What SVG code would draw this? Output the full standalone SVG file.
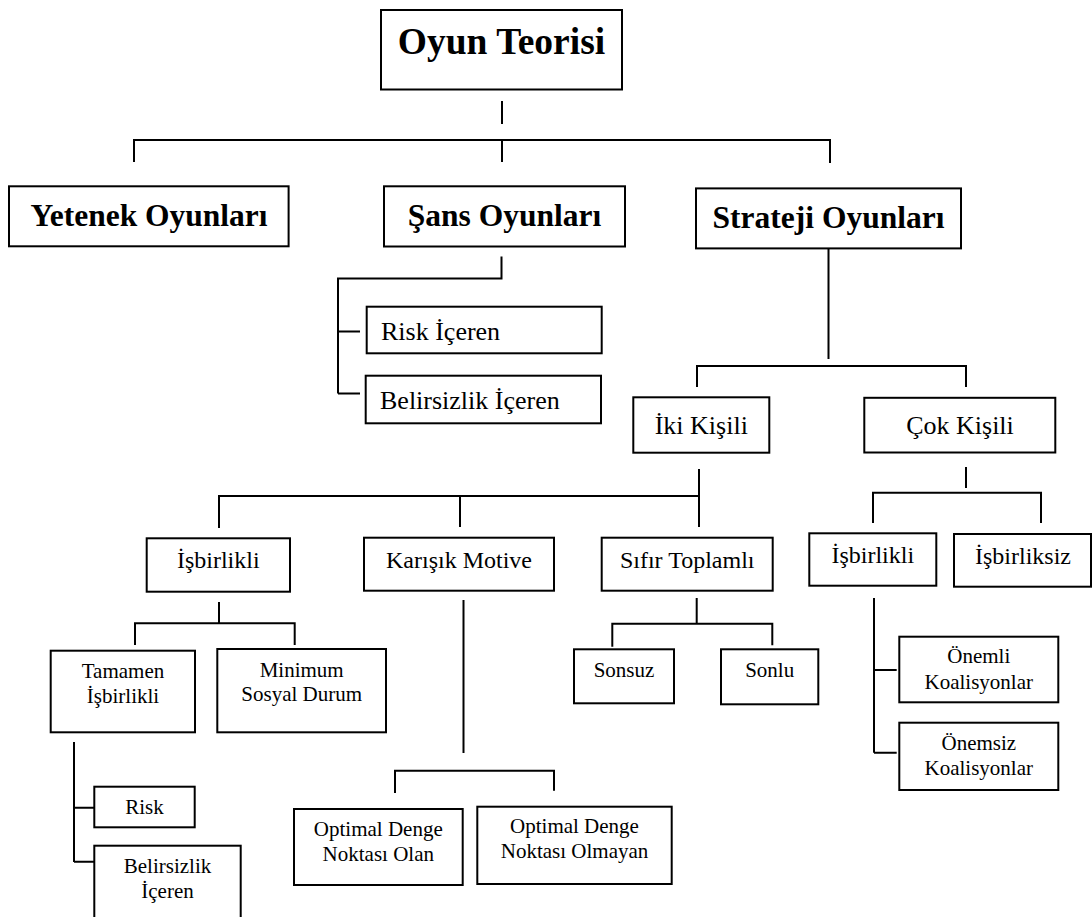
<svg xmlns="http://www.w3.org/2000/svg" width="1092" height="917" viewBox="0 0 1092 917">
<style>
.b{fill:#fff;stroke:#000;stroke-width:2}
.c{fill:none;stroke:#000;stroke-width:2}
text{font-family:"Liberation Serif","Times New Roman",serif;fill:#000}
.h1{font-size:37.5px;font-weight:bold;text-anchor:middle}
.h2{font-size:31.5px;font-weight:bold;text-anchor:middle}
.t26{font-size:26px}
.m26{font-size:26px;text-anchor:middle}
.m24{font-size:24px;text-anchor:middle}
.m21{font-size:21px;text-anchor:middle}
</style>
<rect width="1092" height="917" fill="#fff"/>
<g id="connectors">
<path class="c" d="M502,101V124M134,162V140H830V163M502,140V162"/>
<path class="c" d="M501.5,256.5V278.5H338V393.5M338,331.5H360M338,393.5H360"/>
<path class="c" d="M828.5,248V359M697,387V366H966V387"/>
<path class="c" d="M699,469V527M219,528V496H699M460,496V527"/>
<path class="c" d="M966,467V488M873,523V492.7H1041V523"/>
<path class="c" d="M219,602V623.3M135,645V623.3H294.7V645"/>
<path class="c" d="M463.5,600V753"/>
<path class="c" d="M395,793V770.7H554V790.7"/>
<path class="c" d="M696.7,598V623.7M612.3,646.7V623.7H772.3V645.3"/>
<path class="c" d="M874,598V752.7M874,670H896.7M874,752.7H896.7"/>
<path class="c" d="M74,742V862M74,807.7H94.3M74,861.7H94.3"/>
</g>
<g id="oyun-teorisi"><rect class="b" x="381" y="10" width="241" height="79.5"/><text class="h1" x="501.5" y="54">Oyun Teorisi</text></g>
<g id="yetenek"><rect class="b" x="9" y="186.3" width="279.6" height="60"/><text class="h2" x="149" y="226">Yetenek Oyunları</text></g>
<g id="sans"><rect class="b" x="384" y="186.3" width="241" height="60.2"/><text class="h2" x="504.5" y="226">Şans Oyunları</text></g>
<g id="strateji"><rect class="b" x="696" y="188.4" width="265" height="60"/><text class="h2" x="828.5" y="228">Strateji Oyunları</text></g>
<g id="risk-iceren"><rect class="b" x="366.7" y="306.7" width="235" height="46.6"/><text class="t26" x="381" y="340">Risk İçeren</text></g>
<g id="belirsizlik-iceren"><rect class="b" x="365.7" y="375.7" width="235.3" height="47.6"/><text class="t26" x="380" y="408.5">Belirsizlik İçeren</text></g>
<g id="iki-kisili"><rect class="b" x="633.3" y="397.3" width="136" height="55.4"/><text class="m26" x="701.3" y="434">İki Kişili</text></g>
<g id="cok-kisili"><rect class="b" x="864.3" y="397.8" width="191" height="54.7"/><text class="m26" x="960" y="434">Çok Kişili</text></g>
<g id="isbirlikli-iki"><rect class="b" x="146.7" y="538.3" width="143.3" height="53.4"/><text class="m24" x="218.3" y="568">İşbirlikli</text></g>
<g id="karisik-motive"><rect class="b" x="364" y="537.7" width="190" height="53"/><text class="m24" x="459" y="568">Karışık Motive</text></g>
<g id="sifir-toplamli"><rect class="b" x="601.7" y="537.7" width="171" height="53"/><text class="m24" x="687.2" y="567.7">Sıfır Toplamlı</text></g>
<g id="isbirlikli-cok"><rect class="b" x="809.3" y="533.3" width="127" height="52.4"/><text class="m24" x="872.8" y="563">İşbirlikli</text></g>
<g id="isbirliksiz"><rect class="b" x="954" y="534" width="137" height="52.7"/><text class="m24" x="1023" y="563.5">İşbirliksiz</text></g>
<g id="tamamen"><rect class="b" x="50.7" y="650.7" width="144.3" height="81.6"/><text class="m21" x="123" y="678">Tamamen</text><text class="m21" x="123" y="702.5">İşbirlikli</text></g>
<g id="minimum"><rect class="b" x="217.3" y="649" width="168.7" height="83.3"/><text class="m21" x="301.7" y="676.5">Minimum</text><text class="m21" x="301.7" y="701">Sosyal Durum</text></g>
<g id="sonsuz"><rect class="b" x="574" y="649.3" width="100" height="54"/><text class="m21" x="624" y="676.5">Sonsuz</text></g>
<g id="sonlu"><rect class="b" x="721" y="649.3" width="97.3" height="55"/><text class="m21" x="769.7" y="676.5">Sonlu</text></g>
<g id="onemli"><rect class="b" x="899.3" y="636.7" width="159" height="65.6"/><text class="m21" x="978.8" y="663.3">Önemli</text><text class="m21" x="978.8" y="689">Koalisyonlar</text></g>
<g id="onemsiz"><rect class="b" x="899.3" y="722.7" width="159" height="67.3"/><text class="m21" x="978.8" y="750">Önemsiz</text><text class="m21" x="978.8" y="775">Koalisyonlar</text></g>
<g id="risk"><rect class="b" x="94.3" y="786.7" width="100.4" height="40.6"/><text class="m21" x="144.5" y="814">Risk</text></g>
<g id="belirsizlik"><rect class="b" x="94.3" y="845.7" width="146.4" height="80"/><text class="m21" x="167.5" y="872.7">Belirsizlik</text><text class="m21" x="167.5" y="898.3">İçeren</text></g>
<g id="optimal-olan"><rect class="b" x="294" y="809" width="168.7" height="76"/><text class="m21" x="378.3" y="835.7">Optimal Denge</text><text class="m21" x="378.3" y="860.7">Noktası Olan</text></g>
<g id="optimal-olmayan"><rect class="b" x="477.3" y="806.7" width="194.4" height="77.3"/><text class="m21" x="574.5" y="833.3">Optimal Denge</text><text class="m21" x="574.5" y="858.3">Noktası Olmayan</text></g>
</svg>
